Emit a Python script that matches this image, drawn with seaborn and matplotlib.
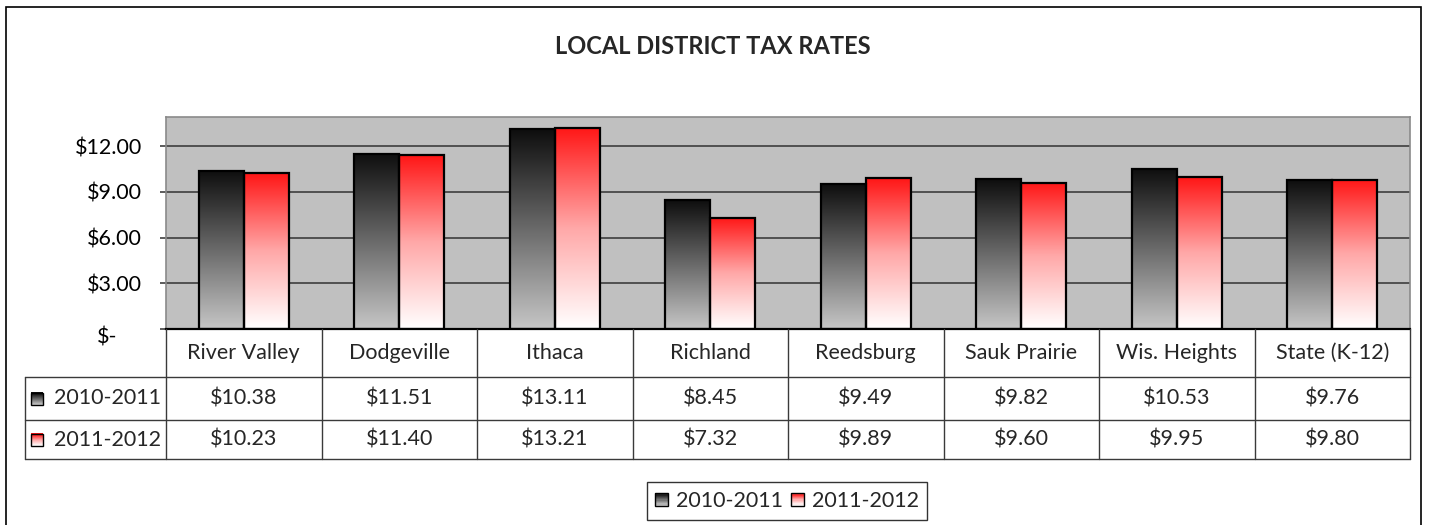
import numpy as np
import pandas as pd
import matplotlib
matplotlib.use("Agg")
import matplotlib.pyplot as plt
import seaborn as sns
from matplotlib.colors import LinearSegmentedColormap
from matplotlib.patches import Rectangle
from matplotlib.legend_handler import HandlerBase
from matplotlib.lines import Line2D
import matplotlib.transforms as mtransforms

# ---------------- data ----------------
districts = ["River Valley", "Dodgeville", "Ithaca", "Richland", "Reedsburg",
             "Sauk Prairie", "Wis. Heights", "State (K-12)"]
years = ["2010-2011", "2011-2012"]
rates_2010_2011 = [10.38, 11.51, 13.11, 8.45, 9.49, 9.82, 10.53, 9.76]
rates_2011_2012 = [10.23, 11.40, 13.21, 7.32, 9.89, 9.60, 9.95, 9.80]
y_ticks = [0, 3, 6, 9, 12]
y_tick_labels = ["$-", "$3.00", "$6.00", "$9.00", "$12.00"]
title = "LOCAL DISTRICT TAX RATES"

df = pd.DataFrame({
    "district": districts * 2,
    "year": [years[0]] * len(districts) + [years[1]] * len(districts),
    "rate": rates_2010_2011 + rates_2011_2012,
})

# ---------------- style ----------------
sns.set_theme(style="white")
plt.rcParams["font.family"] = ["Lato", "DejaVu Sans"]
FS = 15.5

W, H = 1430, 525
fig = plt.figure(figsize=(W / 100, H / 100), dpi=100)
fig.patch.set_facecolor("white")

def fx(x):
    return x / W

def fy(y):
    return 1 - y / H

ax_l, ax_r, ax_t, ax_b = 166, 1410, 117, 329
ax = fig.add_axes([fx(ax_l), fy(ax_b), (ax_r - ax_l) / W, (ax_b - ax_t) / H])

cmaps = {
    years[0]: LinearSegmentedColormap.from_list("blk", ["#c6c6c6", "#0e0e0e"]),
    years[1]: LinearSegmentedColormap.from_list("red", ["#ffffff", "#ffa8a8", "#ff1616"]),
}

sns.barplot(data=df, x="district", y="rate", hue="year", order=districts,
            hue_order=years, palette=["#555555", "#ff5555"], width=0.58,
            legend=False, ax=ax, edgecolor="black", linewidth=1.6, saturation=1)

ax.set_facecolor("#c0c0c0")

grad = np.linspace(0, 1, 256).reshape(-1, 1)
n = len(districts)
for i, p in enumerate(ax.patches[: 2 * n]):
    yr = years[i // n]
    x0, y0 = p.get_x(), p.get_y()
    w, h = p.get_width(), p.get_height()
    p.set_facecolor("none")
    p.set_zorder(3)
    ax.imshow(grad, cmap=cmaps[yr], origin="lower", aspect="auto",
              extent=[x0, x0 + w, y0, y0 + h], zorder=2.5, interpolation="bilinear")
ax.set_ylim(0, 13.92)
ax.set_xlim(-0.5, len(districts) - 0.5)
ax.set_aspect("auto")

ax.set_yticks(y_ticks)
ax.set_yticklabels(y_tick_labels)
ax.yaxis.grid(True, color="#505050", linewidth=1.4)
ax.set_axisbelow(True)
ax.set_xticks(range(n))
ax.set_xticklabels([])
ax.tick_params(axis="x", length=0)
ax.tick_params(axis="y", direction="out", length=4.5, width=1.2, color="#404040",
               pad=13, labelsize=FS, labelcolor="black", left=True)
ax.set_xlabel("")
ax.set_ylabel("")
for s in ["top", "right", "left"]:
    ax.spines[s].set_color("#8a8a8a")
    ax.spines[s].set_linewidth(1.2)
ax.spines["bottom"].set_color("black")
ax.spines["bottom"].set_linewidth(1.6)
# "$-" label sits further left in the reference (accounting format)
lab0 = ax.get_yticklabels()[0]
lab0.set_transform(lab0.get_transform() + mtransforms.ScaledTranslation(-0.24, -0.06, fig.dpi_scale_trans))

# ---------------- title ----------------
fig.text(fx(713), fy(47), title, ha="center", va="center", fontsize=17, fontweight="bold")

# ---------------- data table ----------------
bt = mtransforms.blended_transform_factory(ax.transData, fig.transFigure)
row_cat, row1, row2, row_end = 329, 377, 420, 459
line_kw = dict(color="#3a3a3a", linewidth=1.0)

for yy in [row1, row2, row_end]:
    fig.add_artist(Line2D([fx(25), fx(ax_r)], [fy(yy), fy(yy)], **line_kw))
for k in range(n + 1):
    xb = k - 0.5
    fig.add_artist(Line2D([xb, xb], [fy(row_cat), fy(row_end)], transform=bt, **line_kw))
fig.add_artist(Line2D([fx(25), fx(25)], [fy(row1), fy(row_end)], **line_kw))

for k, d in enumerate(districts):
    fig.text(k, fy((row_cat + row1) / 2), d, transform=bt, ha="center", va="center", fontsize=FS)
    fig.text(k, fy((row1 + row2) / 2), f"${rates_2010_2011[k]:.2f}", transform=bt,
             ha="center", va="center", fontsize=FS)
    fig.text(k, fy((row2 + row_end) / 2), f"${rates_2011_2012[k]:.2f}", transform=bt,
             ha="center", va="center", fontsize=FS)

def grad_square(xpx, ypx, size, cmap):
    nstrip = 12
    for s in range(nstrip):
        c = cmap(s / (nstrip - 1))
        fig.add_artist(Rectangle((fx(xpx), fy(ypx + size / 2) + (size / H) * s / nstrip),
                                 size / W, size / H / nstrip + 0.0005,
                                 facecolor=c, edgecolor="none", transform=fig.transFigure))
    fig.add_artist(Rectangle((fx(xpx), fy(ypx + size / 2)), size / W, size / H,
                             facecolor="none", edgecolor="black", linewidth=1.0,
                             transform=fig.transFigure))

for yr, (ya, yb) in zip(years, [(row1, row2), (row2, row_end)]):
    yc = (ya + yb) / 2
    grad_square(31, yc, 12, cmaps[yr])
    fig.text(fx(54), fy(yc), yr, ha="left", va="center", fontsize=FS)

# ---------------- legend ----------------
class GradHandler(HandlerBase):
    def __init__(self, cmap):
        super().__init__()
        self.cmap = cmap

    def create_artists(self, legend, orig_handle, xdescent, ydescent, width, height,
                       fontsize, trans):
        arts = []
        size = min(width, height)
        x0 = -xdescent + (width - size) / 2
        y0 = -ydescent + (height - size) / 2
        nstrip = 10
        for s in range(nstrip):
            r = Rectangle((x0, y0 + size * s / nstrip), size, size / nstrip + 0.3,
                          facecolor=self.cmap(s / (nstrip - 1)), edgecolor="none", transform=trans)
            arts.append(r)
        arts.append(Rectangle((x0, y0), size, size, facecolor="none", edgecolor="black",
                              linewidth=1.0, transform=trans))
        return arts

h1 = Rectangle((0, 0), 1, 1)
h2 = Rectangle((0, 0), 1, 1)
leg = fig.legend([h1, h2], years, loc="center", bbox_to_anchor=(fx(787), fy(501)),
                 ncol=2, frameon=True, fancybox=False, fontsize=FS,
                 handler_map={h1: GradHandler(cmaps[years[0]]), h2: GradHandler(cmaps[years[1]])},
                 handlelength=0.6, handleheight=0.6, handletextpad=0.35, columnspacing=0.4,
                 borderpad=0.4, edgecolor="black")
leg.get_frame().set_linewidth(1.0)

# outer chart border
fig.add_artist(Rectangle((fx(6), fy(530)), (1421 - 6) / W, (530 - 7) / H, facecolor="none",
                         edgecolor="black", linewidth=1.2, transform=fig.transFigure))

fig.savefig("out.png", dpi=100)
